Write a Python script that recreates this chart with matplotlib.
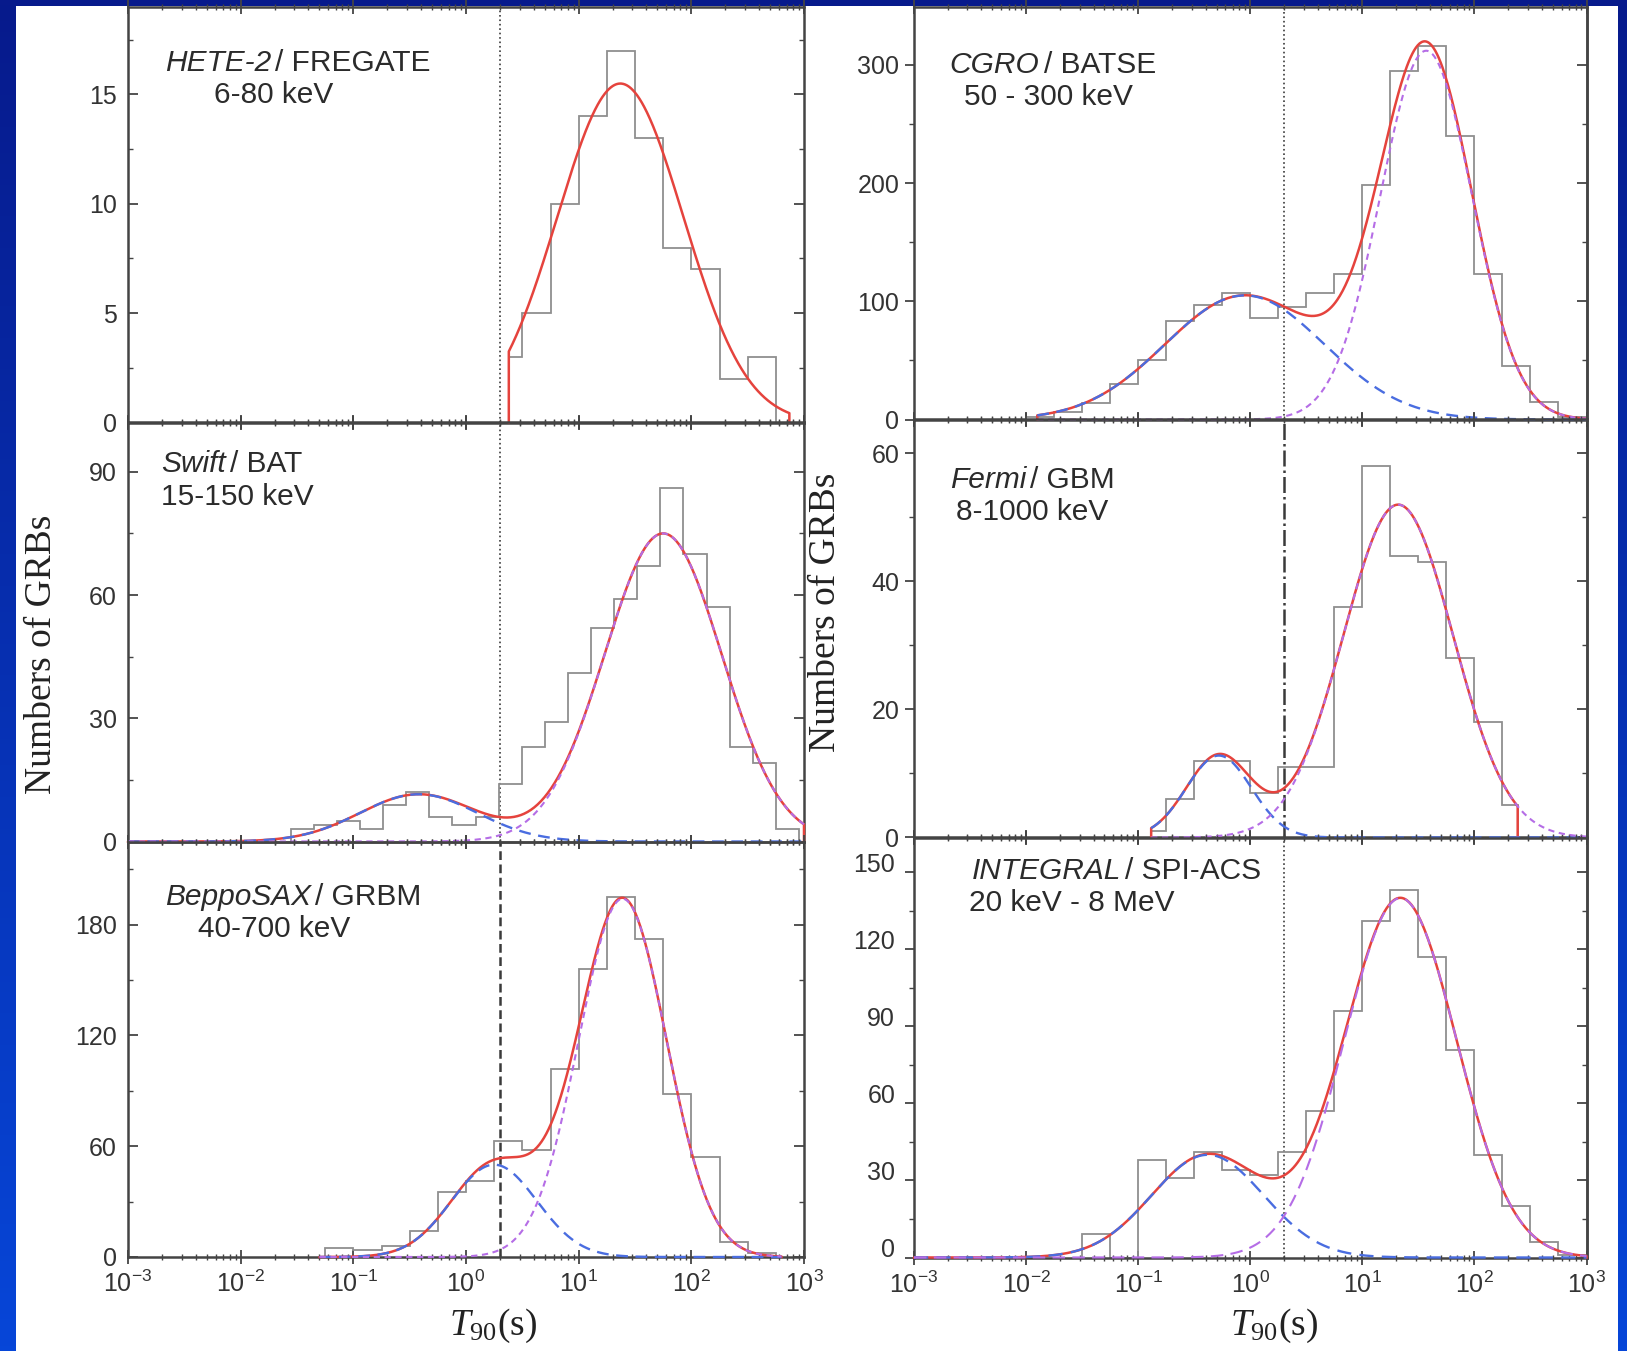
import numpy as np
import matplotlib
matplotlib.use('Agg')
import matplotlib.pyplot as plt
from matplotlib.ticker import FuncFormatter, MultipleLocator, FixedLocator, NullFormatter
from matplotlib.colors import LinearSegmentedColormap
from matplotlib.patches import Rectangle
from matplotlib.transforms import ScaledTranslation

plt.rcParams['font.family'] = ['Liberation Sans', 'DejaVu Sans']
plt.rcParams['mathtext.fontset'] = 'custom'
plt.rcParams['mathtext.rm'] = 'Liberation Serif'
plt.rcParams['mathtext.it'] = 'Liberation Serif:italic'

# histogram bin edges are in log10(T90 / s); fits are (amplitude, log10 centre, log10 width)

# HETE-2 / FREGATE
hete_edges = [0.38, 0.5, 0.75, 1.0, 1.25, 1.5, 1.75, 2.0, 2.25, 2.5, 2.75]
hete_counts = [3, 5, 10, 14, 17, 13, 8, 7, 2, 3]
hete_long = (15.5, 1.37, 0.56)

# Swift / BAT
swift_edges = [-1.555, -1.35, -1.145, -0.94, -0.735, -0.53, -0.325, -0.12, 0.085, 0.29,
               0.495, 0.70, 0.905, 1.11, 1.315, 1.52, 1.725, 1.93, 2.135, 2.34, 2.545,
               2.75, 2.955]
swift_counts = [3, 4, 5, 3, 9, 12, 6, 4, 6, 14, 23, 29, 41, 52, 59, 67, 86, 70, 57, 23, 19, 3]
swift_short = (11.5, -0.42, 0.52)
swift_long = (75.0, 1.75, 0.52)

# BeppoSAX / GRBM
sax_edges = [-1.25, -1.0, -0.75, -0.5, -0.25, 0.0, 0.25, 0.5, 0.75, 1.0, 1.25, 1.5,
             1.75, 2.0, 2.25, 2.5, 2.75]
sax_counts = [5, 4, 6, 14, 35, 41, 63, 58, 102, 156, 195, 172, 88, 54, 8, 2]
sax_short = (50.0, 0.25, 0.38)
sax_long = (194.0, 1.39, 0.39)

# CGRO / BATSE
batse_edges = [-2.0, -1.75, -1.5, -1.25, -1.0, -0.75, -0.5, -0.25, 0.0, 0.25, 0.5, 0.75,
               1.0, 1.25, 1.5, 1.75, 2.0, 2.25, 2.5, 2.75, 3.0]
batse_counts = [2, 6, 14, 30, 50, 83, 97, 107, 86, 95, 107, 123, 198, 295, 316, 240,
                123, 45, 15, 2]
batse_short = (105.0, -0.05, 0.71)
batse_long = (312.0, 1.57, 0.41)

# Fermi / GBM
fermi_edges = [-0.884, -0.75, -0.5, -0.25, 0.0, 0.25, 0.5, 0.75, 1.0, 1.25, 1.5, 1.75,
               2.0, 2.25, 2.386]
fermi_counts = [1, 6, 12, 12, 7, 11, 11, 36, 58, 44, 43, 28, 18, 5]
fermi_short = (12.8, -0.28, 0.29)
fermi_long = (52.0, 1.32, 0.49)

# INTEGRAL / SPI-ACS
integral_edges = [-1.5, -1.25, -1.0, -0.75, -0.5, -0.25, 0.0, 0.25, 0.5, 0.75, 1.0, 1.25,
                  1.5, 1.75, 2.0, 2.25, 2.5, 2.75, 3.0]
integral_counts = [9, 0, 38, 31, 41, 34, 32, 41, 57, 96, 131, 143, 117, 81, 40, 20, 6, 1]
integral_short = (40.0, -0.38, 0.50)
integral_long = (140.0, 1.34, 0.50)

T_SPLIT = 2.0  # s, short/long divide
decades = np.arange(-3, 4)

W, H = 1627, 1351
RED = '#e5433d'
BLUE = '#4a6de0'
PURPLE = '#b56de6'
GRAY = '#8f8f8f'
DARK = '#444444'
TXT = '#2b2b2b'
TICKSIZE = 18


def gauss(lx, amp, mu, sig):
    return amp * np.exp(-0.5 * ((lx - mu) / sig) ** 2)


def rect(x0, x1, y0, y1):
    return [x0 / W, 1 - y1 / H, (x1 - x0) / W, (y1 - y0) / H]


fig = plt.figure(figsize=(W / 100, H / 100), dpi=100)

# blue slide background with the white plot area
bg = fig.add_axes([0, 0, 1, 1], zorder=-5)
cmap = LinearSegmentedColormap.from_list('slide', ['#071a8c', '#0646d8'])
bg.imshow(np.linspace(0, 1, 256).reshape(-1, 1), extent=[0, 1, 0, 1], cmap=cmap,
          aspect='auto', origin='upper')
bg.add_patch(Rectangle((16 / W, 0), (1618 - 16) / W, 1 - 6 / H,
                       facecolor='white', edgecolor='none'))
bg.set_xlim(0, 1)
bg.set_ylim(0, 1)
bg.axis('off')

major_x = 10.0 ** decades
minor_x = np.array([m * 10.0 ** d for d in decades[:-1] for m in range(2, 10)])


def setup_axes(ax, top, ticks, minor, right_col, bottom_row, shift_labels=False):
    ax.set_facecolor('none')
    ax.set_xscale('log')
    ax.set_xlim(1e-3, 1e3)
    ax.set_ylim(0, top)
    ax.set_yticks(ticks)
    ax.yaxis.set_minor_locator(MultipleLocator(minor))
    ax.xaxis.set_major_locator(FixedLocator(major_x))
    ax.xaxis.set_minor_locator(FixedLocator(minor_x))
    ax.xaxis.set_minor_formatter(NullFormatter())
    ax.xaxis.set_major_formatter(FuncFormatter(
        lambda v, p: r'$\mathregular{10^{%d}}$' % int(round(np.log10(v)))))
    for s in ax.spines.values():
        s.set_color(DARK)
        s.set_linewidth(1.8)
    ax.tick_params(axis='x', which='both', direction='inout', top=True, bottom=True,
                   color=DARK, labelsize=TICKSIZE, labelcolor='#333333', pad=5,
                   labelbottom=bottom_row)
    ax.tick_params(axis='x', which='major', length=10, width=1.3)
    ax.tick_params(axis='x', which='minor', length=5, width=1.0)
    if not right_col:
        ax.tick_params(axis='y', which='both', direction='in', left=True, right=True,
                       color=DARK, labelsize=TICKSIZE, labelcolor='#333333', pad=8)
        ax.tick_params(axis='y', which='major', length=7, width=1.3)
        ax.tick_params(axis='y', which='minor', length=3.5, width=1.0)
    else:
        ax.tick_params(axis='y', which='both', direction='out', left=True, right=False,
                       color=DARK, labelsize=TICKSIZE, labelcolor='#333333',
                       pad=7 if shift_labels else 4)
        ax.tick_params(axis='y', which='major', length=6.5, width=1.3)
        ax.tick_params(axis='y', which='minor', length=3.5, width=1.0)
        sec = ax.secondary_yaxis('right')
        sec.set_yticks(ticks)
        sec.yaxis.set_minor_locator(MultipleLocator(minor))
        sec.tick_params(axis='y', which='both', direction='in', color=DARK,
                        labelright=False)
        sec.tick_params(axis='y', which='major', length=7, width=1.3)
        sec.tick_params(axis='y', which='minor', length=3.5, width=1.0)
        sec.spines['right'].set_color(DARK)
        sec.spines['right'].set_linewidth(1.8)
    if shift_labels:
        for lab in ax.get_yticklabels():
            lab.set_transform(lab.get_transform() +
                              ScaledTranslation(0, 0.10, fig.dpi_scale_trans))


def draw_panel(ax, edges, counts, comps, span, red_span=None, vstyle=':', vlw=1.2,
               dash_b=(5, 3.2), dash_p=(3, 2.2)):
    ax.axvline(T_SPLIT, color='#3a3a3a', ls=vstyle, lw=vlw, zorder=2.2)
    ax.stairs(counts, 10 ** np.array(edges), baseline=0, fill=False, color=GRAY,
              lw=1.3, zorder=2.4, clip_on=False)
    lx = np.linspace(span[0], span[1], 600)
    if red_span is None:
        red_span = span
    rx = np.linspace(red_span[0], red_span[1], 600)
    total = sum(gauss(rx, *c) for c in comps)
    rx = np.concatenate([[rx[0]], rx, [rx[-1]]])
    total = np.concatenate([[0], total, [0]])
    ax.plot(10 ** rx, total, color=RED, lw=1.8, zorder=4, clip_on=False)
    if len(comps) > 1:
        ax.plot(10 ** lx, gauss(lx, *comps[0]), color=BLUE, lw=1.7, dashes=dash_b,
                zorder=5, clip_on=False)
        ax.plot(10 ** lx, gauss(lx, *comps[1]), color=PURPLE, lw=1.5, dashes=dash_p,
                zorder=6, clip_on=False)


L0, L1 = 128, 804
R0, R1 = 914, 1586.5

ax_hete = fig.add_axes(rect(L0, L1, 7, 422.5))
ax_swift = fig.add_axes(rect(L0, L1, 422.5, 841.5))
ax_sax = fig.add_axes(rect(L0, L1, 841.5, 1257))
ax_batse = fig.add_axes(rect(R0, R1, 7, 419.5))
ax_fermi = fig.add_axes(rect(R0, R1, 419.5, 837.5))
ax_integral = fig.add_axes(rect(R0, R1, 837.5, 1257.5))

setup_axes(ax_hete, 19, [0, 5, 10, 15], 2.5, False, False)
setup_axes(ax_swift, 102, [0, 30, 60, 90], 15, False, False)
setup_axes(ax_sax, 225, [0, 60, 120, 180], 30, False, True)
setup_axes(ax_batse, 349, [0, 100, 200, 300], 50, True, False)
setup_axes(ax_fermi, 65.3, [0, 20, 40, 60], 10, True, False)
setup_axes(ax_integral, 163.6, [0, 30, 60, 90, 120, 150], 15, True, True, shift_labels=True)

draw_panel(ax_hete, hete_edges, hete_counts, [hete_long], (0.38, 2.87))
draw_panel(ax_swift, swift_edges, swift_counts, [swift_short, swift_long], (-3, 3))
draw_panel(ax_sax, sax_edges, sax_counts, [sax_short, sax_long], (-1.3, 2.8),
           vstyle=(0, (3.5, 1.8)), vlw=1.8)
draw_panel(ax_batse, batse_edges, batse_counts, [batse_short, batse_long], (-1.9, 3))
draw_panel(ax_fermi, fermi_edges, fermi_counts, [fermi_short, fermi_long], (-0.884, 3),
           red_span=(-0.884, 2.386), vstyle='-.', vlw=1.8)
draw_panel(ax_integral, integral_edges, integral_counts, [integral_short, integral_long],
           (-3, 3), dash_b=(6, 3.5), dash_p=(6, 3.5))


def caption(x, y, ital, rest, x2, y2, line2):
    t = bg.text(x / W, 1 - y / H, ital, style='italic', fontsize=21.5, color=TXT,
                va='baseline', ha='left', transform=bg.transAxes)
    bg.annotate(rest, xy=(1, 0), xycoords=t, xytext=(3, 0), textcoords='offset points',
                va='bottom', ha='left', fontsize=21.5, color=TXT)
    bg.text(x2 / W, 1 - y2 / H, line2, fontsize=21.5, color=TXT, va='baseline', ha='left',
            transform=bg.transAxes)


caption(164.7, 71, 'HETE-2', '/ FREGATE', 214.4, 103.3, '6-80 keV')
caption(161, 471.7, 'Swift', '/ BAT', 161, 505, '15-150 keV')
caption(164.7, 905, 'BeppoSAX', '/ GRBM', 197.7, 937.3, '40-700 keV')
caption(949.7, 73.3, 'CGRO', '/ BATSE', 963.7, 105, '50 - 300 keV')
caption(949.7, 488.3, 'Fermi', '/ GBM', 955.9, 520, '8-1000 keV')
caption(971.5, 879.3, 'INTEGRAL', '/ SPI-ACS', 969, 911, '20 keV - 8 MeV')

for x, y in [(41.5, 654), (826, 612)]:
    bg.text(x / W, 1 - y / H, 'Numbers of GRBs', rotation=90, ha='center', va='center',
            family='Liberation Serif', fontsize=27, color='#222222', transform=bg.transAxes)
for x in [493, 1274]:
    bg.text(x / W, 1 - 1335 / H, r'$T_{90}$(s)', ha='center', va='baseline',
            family='Liberation Serif', fontsize=27, color='#222222', transform=bg.transAxes)

fig.savefig('out.png', dpi=100)
